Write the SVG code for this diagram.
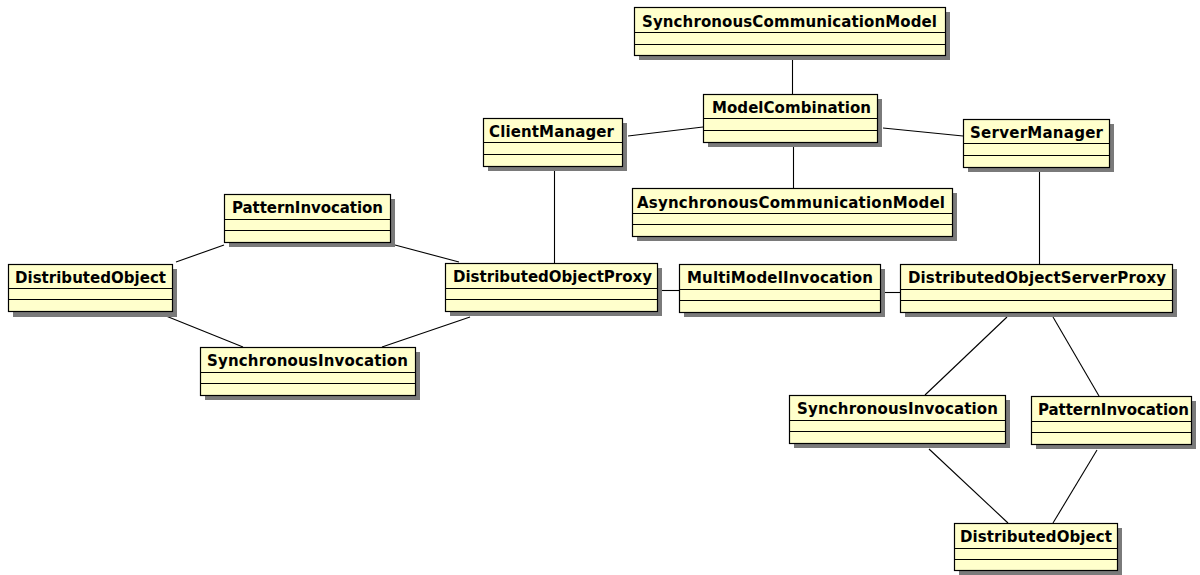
<svg xmlns="http://www.w3.org/2000/svg" width="1200" height="575" viewBox="0 0 1200 575">
<style>
.shadow{fill:#7a7a7a}
.box{fill:#FFFFCC;stroke:#000;stroke-width:1.2}
.div{stroke:#000;stroke-width:1.2}
.lbl{font-family:"DejaVu Sans","Liberation Sans",Arial,sans-serif;font-weight:bold;font-size:15px;fill:#000}
.conn line{stroke:#000;stroke-width:1.1}
</style>
<rect width="1200" height="575" fill="#fff"/>
<g id="connectors" class="conn">
<line x1="792.5" y1="60" x2="792.5" y2="94"/>
<line x1="793.5" y1="147" x2="793.5" y2="188"/>
<line x1="628" y1="136" x2="703" y2="127"/>
<line x1="883" y1="128" x2="963" y2="136"/>
<line x1="554.5" y1="171" x2="554.5" y2="263"/>
<line x1="1039.5" y1="172" x2="1039.5" y2="264"/>
<line x1="662" y1="290.5" x2="679" y2="290.5"/>
<line x1="885" y1="292.5" x2="900" y2="292.5"/>
<line x1="395" y1="245" x2="459" y2="262"/>
<line x1="470" y1="317" x2="382" y2="347"/>
<line x1="176" y1="262" x2="224" y2="245"/>
<line x1="166" y1="316" x2="243" y2="347"/>
<line x1="1007" y1="317" x2="925" y2="395"/>
<line x1="1053" y1="317" x2="1099" y2="396"/>
<line x1="929" y1="449" x2="1008" y2="523"/>
<line x1="1097" y1="450" x2="1053" y2="523"/>
</g>
<g id="SynchronousCommunicationModel">
<rect class="shadow" x="639" y="12" width="311" height="48"/>
<rect class="box" x="634.5" y="7.5" width="311" height="48"/>
<line class="div" x1="634.5" y1="32.5" x2="945.5" y2="32.5"/>
<line class="div" x1="634.5" y1="44.5" x2="945.5" y2="44.5"/>
<text class="lbl" x="642" y="26.5" textLength="295" lengthAdjust="spacing">SynchronousCommunicationModel</text>
</g>
<g id="ModelCombination">
<rect class="shadow" x="708" y="99" width="174" height="48"/>
<rect class="box" x="703.5" y="94.5" width="174" height="48"/>
<line class="div" x1="703.5" y1="118.5" x2="877.5" y2="118.5"/>
<line class="div" x1="703.5" y1="130.5" x2="877.5" y2="130.5"/>
<text class="lbl" x="712" y="112.5" textLength="159" lengthAdjust="spacing">ModelCombination</text>
</g>
<g id="AsynchronousCommunicationModel">
<rect class="shadow" x="637" y="193" width="320" height="48"/>
<rect class="box" x="632.5" y="188.5" width="320" height="48"/>
<line class="div" x1="632.5" y1="213.5" x2="952.5" y2="213.5"/>
<line class="div" x1="632.5" y1="224.5" x2="952.5" y2="224.5"/>
<text class="lbl" x="637" y="207.5" textLength="308" lengthAdjust="spacing">AsynchronousCommunicationModel</text>
</g>
<g id="ClientManager">
<rect class="shadow" x="488" y="123" width="139" height="48"/>
<rect class="box" x="483.5" y="118.5" width="139" height="48"/>
<line class="div" x1="483.5" y1="142.5" x2="622.5" y2="142.5"/>
<line class="div" x1="483.5" y1="154.5" x2="622.5" y2="154.5"/>
<text class="lbl" x="489" y="136.5" textLength="125" lengthAdjust="spacing">ClientManager</text>
</g>
<g id="ServerManager">
<rect class="shadow" x="968" y="124" width="146" height="48"/>
<rect class="box" x="963.5" y="119.5" width="146" height="48"/>
<line class="div" x1="963.5" y1="143.5" x2="1109.5" y2="143.5"/>
<line class="div" x1="963.5" y1="155.5" x2="1109.5" y2="155.5"/>
<text class="lbl" x="970" y="137.5" textLength="133" lengthAdjust="spacing">ServerManager</text>
</g>
<g id="DistributedObjectProxy">
<rect class="shadow" x="450" y="268" width="212" height="48"/>
<rect class="box" x="445.5" y="263.5" width="212" height="48"/>
<line class="div" x1="445.5" y1="288.5" x2="657.5" y2="288.5"/>
<line class="div" x1="445.5" y1="299.5" x2="657.5" y2="299.5"/>
<text class="lbl" x="453" y="282" textLength="199" lengthAdjust="spacing">DistributedObjectProxy</text>
</g>
<g id="MultiModelInvocation">
<rect class="shadow" x="684" y="269" width="201" height="48"/>
<rect class="box" x="679.5" y="264.5" width="201" height="48"/>
<line class="div" x1="679.5" y1="289.5" x2="880.5" y2="289.5"/>
<line class="div" x1="679.5" y1="300.5" x2="880.5" y2="300.5"/>
<text class="lbl" x="687" y="283" textLength="186" lengthAdjust="spacing">MultiModelInvocation</text>
</g>
<g id="DistributedObjectServerProxy">
<rect class="shadow" x="905" y="269" width="272" height="48"/>
<rect class="box" x="900.5" y="264.5" width="272" height="48"/>
<line class="div" x1="900.5" y1="289.5" x2="1172.5" y2="289.5"/>
<line class="div" x1="900.5" y1="300.5" x2="1172.5" y2="300.5"/>
<text class="lbl" x="908" y="283" textLength="258" lengthAdjust="spacing">DistributedObjectServerProxy</text>
</g>
<g id="PatternInvocationLeft">
<rect class="shadow" x="229" y="199" width="166" height="48"/>
<rect class="box" x="224.5" y="194.5" width="166" height="48"/>
<line class="div" x1="224.5" y1="219.5" x2="390.5" y2="219.5"/>
<line class="div" x1="224.5" y1="230.5" x2="390.5" y2="230.5"/>
<text class="lbl" x="232" y="213" textLength="151" lengthAdjust="spacing">PatternInvocation</text>
</g>
<g id="DistributedObjectLeft">
<rect class="shadow" x="13" y="269" width="164" height="48"/>
<rect class="box" x="8.5" y="264.5" width="164" height="47"/>
<line class="div" x1="8.5" y1="288.5" x2="172.5" y2="288.5"/>
<line class="div" x1="8.5" y1="299.5" x2="172.5" y2="299.5"/>
<text class="lbl" x="15" y="283" textLength="151" lengthAdjust="spacing">DistributedObject</text>
</g>
<g id="SynchronousInvocationLeft">
<rect class="shadow" x="205" y="352" width="215" height="48"/>
<rect class="box" x="200.5" y="347.5" width="215" height="48"/>
<line class="div" x1="200.5" y1="372.5" x2="415.5" y2="372.5"/>
<line class="div" x1="200.5" y1="383.5" x2="415.5" y2="383.5"/>
<text class="lbl" x="207" y="366" textLength="201" lengthAdjust="spacing">SynchronousInvocation</text>
</g>
<g id="SynchronousInvocationRight">
<rect class="shadow" x="794" y="400" width="216" height="48"/>
<rect class="box" x="789.5" y="395.5" width="216" height="48"/>
<line class="div" x1="789.5" y1="420.5" x2="1005.5" y2="420.5"/>
<line class="div" x1="789.5" y1="431.5" x2="1005.5" y2="431.5"/>
<text class="lbl" x="797" y="414" textLength="201" lengthAdjust="spacing">SynchronousInvocation</text>
</g>
<g id="PatternInvocationRight">
<rect class="shadow" x="1036" y="401" width="160" height="48"/>
<rect class="box" x="1031.5" y="396.5" width="160" height="48"/>
<line class="div" x1="1031.5" y1="421.5" x2="1191.5" y2="421.5"/>
<line class="div" x1="1031.5" y1="432.5" x2="1191.5" y2="432.5"/>
<text class="lbl" x="1038" y="415" textLength="151" lengthAdjust="spacing">PatternInvocation</text>
</g>
<g id="DistributedObjectRight">
<rect class="shadow" x="959" y="528" width="163" height="47"/>
<rect class="box" x="954.5" y="523.5" width="163" height="47"/>
<line class="div" x1="954.5" y1="548.5" x2="1117.5" y2="548.5"/>
<line class="div" x1="954.5" y1="559.5" x2="1117.5" y2="559.5"/>
<text class="lbl" x="960" y="542" textLength="152" lengthAdjust="spacing">DistributedObject</text>
</g>
</svg>
